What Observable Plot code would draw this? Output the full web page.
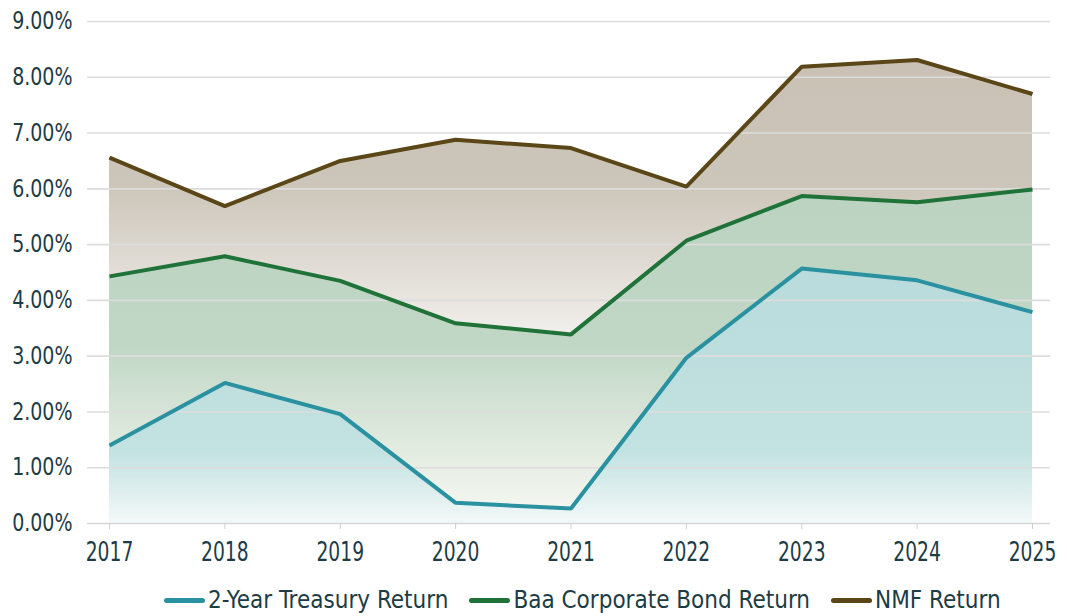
<!DOCTYPE html>
<html>
<head>
<meta charset="utf-8">
<script src="https://cdn.jsdelivr.net/npm/d3@7"></script>
<script src="https://cdn.jsdelivr.net/npm/@observablehq/plot@0.6"></script>
<style>
  html, body { margin: 0; padding: 0; background: #ffffff; }
  body { width: 1067px; height: 616px; overflow: hidden; font-family: "Liberation Sans Narrow", "DejaVu Sans Condensed", "Roboto", sans-serif; }
  #legend { display: flex; justify-content: flex-start; align-items: center; height: 30px; margin-top: 10px; color: #1d3c44; font-size: 24px; padding-left: 164px; }
  #legend .item { display: flex; align-items: center; margin-right: 21px; }
  #legend .sw { display: inline-block; width: 41px; height: 5px; border-radius: 3px; margin-right: 3px; }
</style>
</head>
<body>
<div id="chart"></div>
<div id="legend"></div>
<script>
const years = [2017, 2018, 2019, 2020, 2021, 2022, 2023, 2024, 2025];
const treasury = [1.40, 2.52, 1.96, 0.37, 0.27, 2.97, 4.57, 4.36, 3.79];
const baa = [4.43, 4.79, 4.35, 3.59, 3.39, 5.07, 5.87, 5.76, 5.99];
const nmf = [6.56, 5.69, 6.50, 6.88, 6.73, 6.04, 8.19, 8.31, 7.70];
const yTicks = [0, 1, 2, 3, 4, 5, 6, 7, 8, 9];
const seriesNames = ["2-Year Treasury Return", "Baa Corporate Bond Return", "NMF Return"];
const lineColors = ["#2a91a1", "#1f7238", "#5a4617"];

const seriesValues = [treasury, baa, nmf];
const data = seriesNames.flatMap((name, s) => years.map((year, i) => ({series: name, year, value: seriesValues[s][i]})));
const gradIds = ["gTreasury", "gBaa", "gNmf"];

const chart = Plot.plot({
  width: 1067,
  height: 575,
  marginTop: 21,
  marginBottom: 52,
  marginLeft: 87,
  marginRight: 17,
  style: {fontFamily: '"Liberation Sans Narrow", "DejaVu Sans Condensed", sans-serif', color: "#1d3c44", background: "transparent"},
  x: {domain: [2017, 2025], insetLeft: 22, insetRight: 18},
  y: {domain: [0, 9]},
  marks: [
    ...[2, 1, 0].map(s => Plot.areaY(data.filter(d => d.series === seriesNames[s]), {x: "year", y: "value", fill: `url(#${gradIds[s]})`})),
    Plot.gridY(yTicks.filter(t => t > 0), {stroke: "#dcdcdc", strokeOpacity: 1, strokeWidth: 1.6}),
    Plot.ruleY([0], {stroke: "#d6d6d6", strokeWidth: 1.6}),
    Plot.axisY({ticks: yTicks, tickSize: 0, tickPadding: 15, tickFormat: d => d.toFixed(2) + "%", label: null, fill: "#1d3c44", fontSize: 24}),
    Plot.axisX({ticks: years, tickSize: 6, tickPadding: 13, tickFormat: d => String(d), label: null, stroke: "#d0d0d0", fill: "#1d3c44", fontSize: 26}),
    ...[2, 1, 0].map(s => Plot.line(data.filter(d => d.series === seriesNames[s]), {x: "year", y: "value", stroke: lineColors[s], strokeWidth: 4, strokeLinejoin: "miter", strokeLinecap: "butt"}))
  ]
});

const svg = d3.select(chart);
// condense tick labels horizontally to mimic the narrow typeface
svg.selectAll('g[aria-label="x-axis tick label"] text').attr("transform", function() { return (this.getAttribute("transform") || "") + " scale(0.8,1)"; });
svg.selectAll('g[aria-label="y-axis tick label"] text').attr("transform", function() { return (this.getAttribute("transform") || "") + " scale(0.88,1)"; });

// gradient definitions
const defs = svg.insert("defs", ":first-child");
const gradStops = {
  gNmf: [[0, "#c9c1b4"], [0.27, "#ccc5b9"], [0.6, "#f2f0ed"], [1, "#fafaf9"]],
  gBaa: [[0, "#bbd3c0"], [0.47, "#c0d7c5"], [0.85, "#eaf0e7"], [1, "#f5f8f3"]],
  gTreasury: [[0, "#b9dbdb"], [0.72, "#c3e2e2"], [1, "#f3f8f8"]]
};
for (const id of Object.keys(gradStops)) {
  const g = defs.append("linearGradient").attr("id", id).attr("x1", 0).attr("y1", 0).attr("x2", 0).attr("y2", 1);
  for (const [o, c] of gradStops[id]) g.append("stop").attr("offset", o).attr("stop-color", c);
}
document.getElementById("chart").appendChild(chart);

// legend
const legend = d3.select("#legend");
seriesNames.forEach((name, i) => {
  const item = legend.append("div").attr("class", "item");
  item.append("span").attr("class", "sw").style("background", lineColors[i]);
  item.append("span").text(name);
});
</script>
</body>
</html>
